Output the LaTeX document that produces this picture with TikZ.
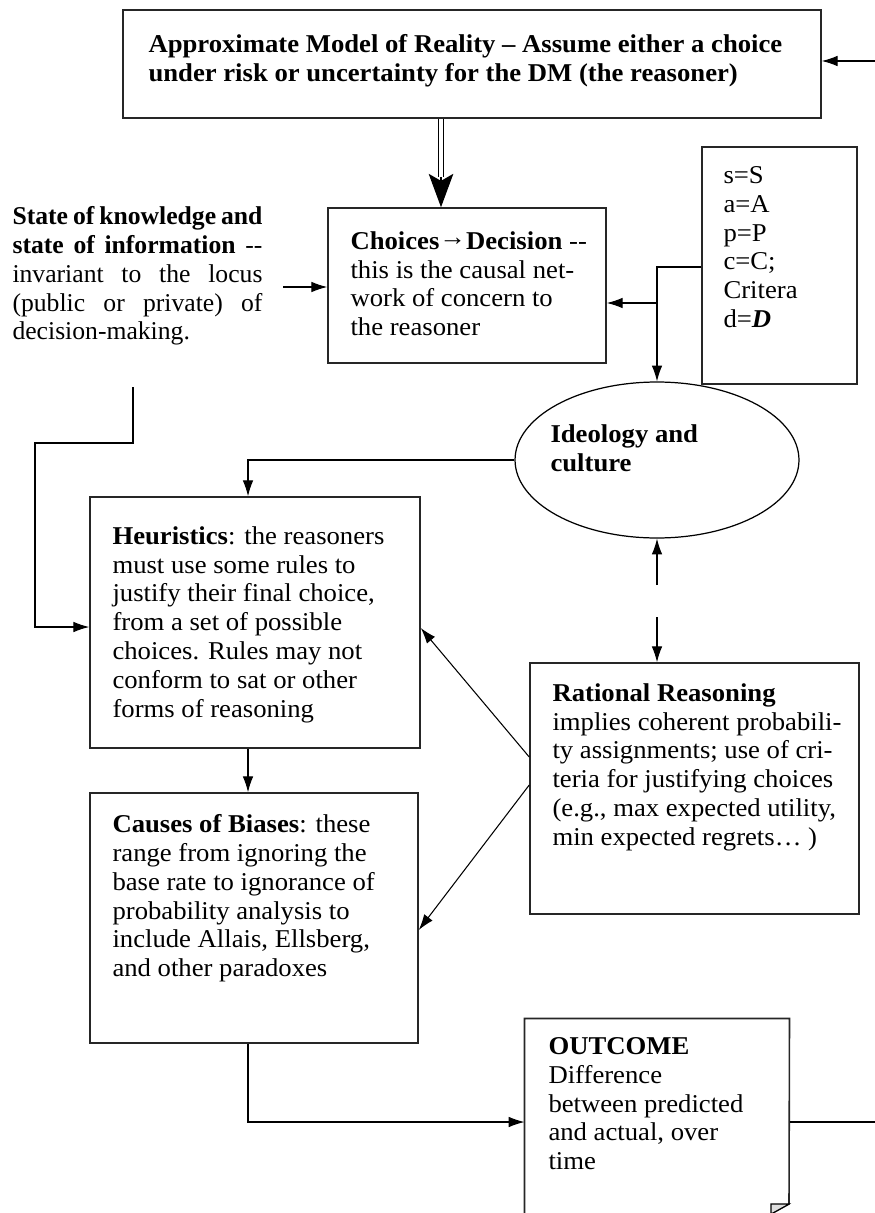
\documentclass[tikz,border=0pt]{standalone}
\usepackage{fontspec}
\setmainfont[FakeStretch=1.04]{Liberation Serif}
\newfontfamily\knowfont{Liberation Serif}
\usetikzlibrary{arrows.meta,shapes.geometric}
\newcommand\dfont{\fontsize{14.6pt}{16.4pt}\selectfont}
\newcommand\jline[1]{\makebox[5cm][s]{#1}}
\begin{document}
\begin{tikzpicture}[x=0.02cm,y=-0.02cm,line width=0.6pt,
  box/.style={draw=black!85,line width=0.9pt,inner sep=0pt},
  txt/.style={anchor=north west,inner sep=0pt,align=left,font=\dfont},
  >={Latex[length=9pt,width=6pt]}]
  \useasboundingbox (0,0) rectangle (875,1213);
  \clip (0,0) rectangle (875,1213);
  \node[box,minimum width=13.96cm,minimum height=2.16cm] (model) at (472,64) {};
  \node[txt,font=\dfont\bfseries] (modeltxt) at (148,34) {Approximate Model of Reality \textendash{} Assume either a choice\\under risk or uncertainty for the DM (the reasoner)};
  \node[txt,font=\knowfont\dfont] (know) at (12,206) {\jline{\textbf{State of knowledge and}}\\\jline{\textbf{state of information} -{}-}\\\jline{invariant to the locus}\\\jline{(public or private) of}\\decision-making.};
  \node[box,minimum width=5.56cm,minimum height=3.1cm] (choices) at (467,285.5) {};
  \node[txt] (choicestxt) at (350,231) {\textbf{Choices\raisebox{0.35ex}{→}Decision} -{}-\\this is the causal net-\\work of concern to\\the reasoner};
  \node[box,minimum width=3.1cm,minimum height=4.74cm] (params) at (779.5,265.5) {};
  \node[txt] (paramstxt) at (723,166) {s=S\\a=A\\p=P\\c=C;\\Critera\\d=\textbf{\textit{D}}};
  \node[draw,ellipse,line width=0.7pt,minimum width=5.68cm,minimum height=3.12cm,inner sep=0pt] (ideo) at (657,460) {};
  \node[txt,font=\dfont\bfseries] (ideotxt) at (550,424) {Ideology and\\culture};
  \node[box,minimum width=6.6cm,minimum height=5.02cm] (heur) at (255,622.5) {};
  \node[txt] (heurtxt) at (112,526) {\textbf{Heuristics}: the reasoners\\must use some rules to\\justify their final choice,\\from a set of possible\\choices. Rules may not\\conform to sat or other\\forms of reasoning};
  \node[box,minimum width=6.56cm,minimum height=5cm] (causes) at (254,918) {};
  \node[txt] (causestxt) at (112,814) {\textbf{Causes of Biases}: these\\range from ignoring the\\base rate to ignorance of\\probability analysis to\\include Allais, Ellsberg,\\and other paradoxes};
  \node[box,minimum width=6.58cm,minimum height=5.02cm] (rational) at (694.5,788.5) {};
  \node[txt] (rationaltxt) at (552,683) {\textbf{Rational Reasoning}\\implies coherent probabili-\\ty assignments; use of cri-\\teria for justifying choices\\(e.g., max expected utility,\\min expected regrets… )};
  \node[minimum width=5.28cm,minimum height=4.12cm,inner sep=0pt] (outcome) at (657,1122) {};
  \draw[draw=black!85,line width=0.9pt] (outcome.south west) -- (outcome.north west) -- (outcome.north east) -- (789,1204) -- (771,1214);
  \filldraw[fill=gray!25] (771,1204) -- (789,1204) -- (771,1214) -- cycle;
  \node[txt] (outcometxt) at (548,1037) {\textbf{OUTCOME}\\Difference\\between predicted\\and actual, over\\time};
  % free ends
  \coordinate (fbin) at (875,61);
  \coordinate (fbout) at (875,1122);
  \coordinate (ka) at (283,287);
  \coordinate (kd) at (133,387);
  \coordinate (pc) at (657,267);
  \coordinate (pb) at (657,303);
  \coordinate (ia) at (657,585);
  \coordinate (ib) at (657,617);
  \coordinate (dtop) at ([xshift=-0.62cm]model.south);
  % connectors
  \draw[->] (fbin) -- (fbin -| model.east);
  \draw (fbout -| outcome.east) -- (fbout);
  \draw[-{Stealth[length=19pt,width=14pt,inset=4pt]}] (dtop) -- (dtop |- choices.north);
  \draw[double,double distance=2pt,line width=0.9pt] (dtop) -- ++(0,58);
  \draw[->] (ka) -- (ka -| choices.west);
  \draw[->] (kd) -- ++(0,56) -- ++(-98,0) |- (heur.west |- 0,627);
  \draw[->] (params.west |- pc) -- (pc) -- (ideo.north);
  \draw[->] (pb) -- (pb -| choices.east);
  \draw[->] (ideo.west) -| ([xshift=-0.14cm]heur.north);
  \draw[->] (ia) -- (ideo.south);
  \draw[->] (ib) -- (ib |- rational.north);
  \draw[->] ([yshift=0.63cm]rational.west) -- ([yshift=-0.11cm]heur.east);
  \draw[->] ([yshift=0.07cm]rational.west) -- ([yshift=-0.24cm]causes.east);
  \draw[->] ([xshift=-0.14cm]heur.south) -- ([xshift=-0.14cm]heur.south |- causes.north);
  \draw[->] ([xshift=-0.12cm]causes.south) |- (outcome.west);
\end{tikzpicture}
\end{document}
